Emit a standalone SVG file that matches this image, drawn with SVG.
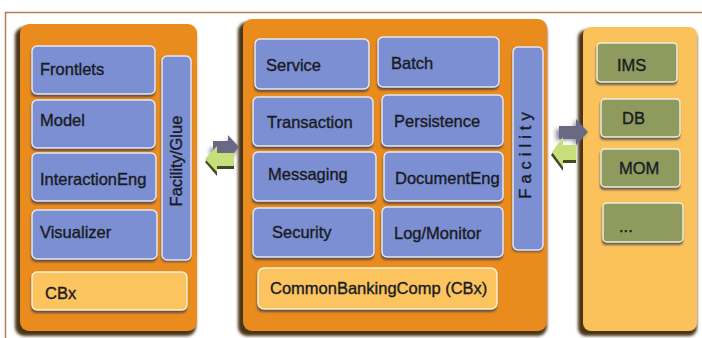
<svg xmlns="http://www.w3.org/2000/svg" width="702" height="338" viewBox="0 0 702 338">
  <style>
    .panel { fill: #ea8b1e; }
    .panel-light { fill: #fbc25c; }
    .panel-shadow { fill: #4a3418; filter: url(#soft); }
    .blue { fill: #7b8fd2; stroke: #e6e9f4; stroke-width: 1.5; }
    .cream { fill: #fbc45e; stroke: #fff1d6; stroke-width: 1.5; }
    .green { fill: #8e9a5e; stroke: #eef0dc; stroke-width: 1.5; }
    .box-shadow { fill: #3a3a4a; opacity: 0.75; filter: url(#soft1); }
    .lbl { font-family: "Liberation Sans", Arial, sans-serif; font-size: 16.5px; fill: #1a1a22; stroke: #1a1a22; stroke-width: 0.35; }
  </style>
  <defs>
    <filter id="soft" x="-10%" y="-10%" width="120%" height="120%">
      <feGaussianBlur stdDeviation="1.5"/>
    </filter>
    <filter id="soft1" x="-10%" y="-10%" width="120%" height="130%">
      <feGaussianBlur stdDeviation="0.8"/>
    </filter>
    <filter id="blurArrow" x="-30%" y="-30%" width="160%" height="160%">
      <feGaussianBlur stdDeviation="2"/>
    </filter>
  </defs>

  <rect width="702" height="338" fill="#ffffff"/>
  <!-- outer frame -->
  <path d="M702 12.5 H5.5 V338" fill="none" stroke="#b57d55" stroke-width="1.5"/>

  <!-- left panel -->
  <g id="left-panel">
    <rect class="panel-shadow" x="15" y="27" width="181" height="309" rx="9"/>
    <rect class="panel" x="20" y="24" width="177" height="307" rx="9"/>
  </g>
  <g id="frontlets">
    <rect class="box-shadow" x="31" y="48" width="124" height="49" rx="5"/>
    <rect class="blue" x="32" y="46" width="123" height="48" rx="5"/>
    <text class="lbl" x="40" y="75">Frontlets</text>
  </g>
  <g id="model">
    <rect class="box-shadow" x="31" y="102" width="124" height="49" rx="5"/>
    <rect class="blue" x="32" y="100" width="123" height="48" rx="5"/>
    <text class="lbl" x="40" y="126">Model</text>
  </g>
  <g id="interaction-eng">
    <rect class="box-shadow" x="31" y="155" width="125" height="49" rx="5"/>
    <rect class="blue" x="32" y="153" width="124" height="48" rx="5"/>
    <text class="lbl" x="40" y="185">InteractionEng</text>
  </g>
  <g id="visualizer">
    <rect class="box-shadow" x="31" y="212" width="126" height="50" rx="5"/>
    <rect class="blue" x="32" y="210" width="125" height="49" rx="5"/>
    <text class="lbl" x="40" y="238">Visualizer</text>
  </g>
  <g id="facility-glue">
    <rect class="box-shadow" x="161" y="58" width="30" height="204" rx="5"/>
    <rect class="blue" x="162" y="56" width="29" height="204" rx="5"/>
    <text class="lbl" transform="translate(182 161) rotate(-90)" text-anchor="middle">Facility/Glue</text>
  </g>
  <g id="cbx-left">
    <rect class="box-shadow" x="31" y="274" width="156" height="39" rx="5"/>
    <rect class="cream" x="32" y="272" width="155" height="38" rx="5"/>
    <text class="lbl" x="45" y="299">CBx</text>
  </g>

  <!-- middle panel -->
  <g id="middle-panel">
    <rect class="panel-shadow" x="238" y="22" width="309" height="314" rx="9"/>
    <rect class="panel" x="243" y="19" width="304" height="312" rx="9"/>
  </g>
  <g id="service">
    <rect class="box-shadow" x="254" y="41" width="115" height="51" rx="5"/>
    <rect class="blue" x="255" y="39" width="114" height="50" rx="5"/>
    <text class="lbl" x="266" y="71">Service</text>
  </g>
  <g id="batch">
    <rect class="box-shadow" x="377" y="39" width="122" height="51" rx="5"/>
    <rect class="blue" x="378" y="37" width="121" height="50" rx="5"/>
    <text class="lbl" x="391" y="69">Batch</text>
  </g>
  <g id="transaction">
    <rect class="box-shadow" x="252" y="99" width="121" height="50" rx="5"/>
    <rect class="blue" x="253" y="97" width="120" height="49" rx="5"/>
    <text class="lbl" x="267" y="128">Transaction</text>
  </g>
  <g id="persistence">
    <rect class="box-shadow" x="381" y="97" width="122" height="52" rx="5"/>
    <rect class="blue" x="382" y="95" width="121" height="51" rx="5"/>
    <text class="lbl" x="394" y="127">Persistence</text>
  </g>
  <g id="messaging">
    <rect class="box-shadow" x="252" y="154" width="124" height="50" rx="5"/>
    <rect class="blue" x="253" y="152" width="123" height="49" rx="5"/>
    <text class="lbl" x="268" y="180">Messaging</text>
  </g>
  <g id="document-eng">
    <rect class="box-shadow" x="383" y="154" width="120" height="50" rx="5"/>
    <rect class="blue" x="384" y="152" width="119" height="49" rx="5"/>
    <text class="lbl" x="395" y="184">DocumentEng</text>
  </g>
  <g id="security">
    <rect class="box-shadow" x="252" y="210" width="122" height="50" rx="5"/>
    <rect class="blue" x="253" y="208" width="121" height="49" rx="5"/>
    <text class="lbl" x="272" y="238">Security</text>
  </g>
  <g id="log-monitor">
    <rect class="box-shadow" x="381" y="209" width="122" height="51" rx="5"/>
    <rect class="blue" x="382" y="207" width="121" height="50" rx="5"/>
    <text class="lbl" x="394" y="239">Log/Monitor</text>
  </g>
  <g id="common-banking-comp">
    <rect class="box-shadow" x="257" y="270" width="240" height="42" rx="6"/>
    <rect class="cream" x="258" y="268" width="239" height="41" rx="6"/>
    <text class="lbl" x="270" y="294">CommonBankingComp (CBx)</text>
  </g>
  <g id="facility">
    <rect class="box-shadow" x="512" y="49" width="31" height="203" rx="5"/>
    <rect class="blue" x="513" y="47" width="30" height="203" rx="5"/>
    <text class="lbl" transform="translate(531 153) rotate(-90)" text-anchor="middle" letter-spacing="5">Facility</text>
  </g>

  <!-- right panel -->
  <g id="right-panel">
    <rect class="panel-shadow" x="578" y="30" width="119" height="306" rx="8"/>
    <rect class="panel-light" x="583" y="27" width="114" height="304" rx="8"/>
  </g>
  <g id="ims">
    <rect class="box-shadow" x="596" y="45" width="81" height="40" rx="4"/>
    <rect class="green" x="597" y="43" width="80" height="39" rx="4"/>
    <text class="lbl" x="617" y="71">IMS</text>
  </g>
  <g id="db">
    <rect class="box-shadow" x="600" y="101" width="80" height="39" rx="4"/>
    <rect class="green" x="601" y="99" width="79" height="38" rx="4"/>
    <text class="lbl" x="622" y="124">DB</text>
  </g>
  <g id="mom">
    <rect class="box-shadow" x="600" y="151" width="80" height="39" rx="4"/>
    <rect class="green" x="601" y="149" width="79" height="38" rx="4"/>
    <text class="lbl" x="619" y="174">MOM</text>
  </g>
  <g id="more">
    <rect class="box-shadow" x="602" y="205" width="81" height="40" rx="4"/>
    <rect class="green" x="603" y="203" width="80" height="39" rx="4"/>
    <text class="lbl" x="619" y="232" font-size="12" stroke-width="0">...</text>
  </g>

  <!-- connectors: paired two-way arrows between panels -->
  <g id="connectors">
    <g id="arrows-left">
      <path d="M210 148 H227 V138 L238 150 L227 162 V155 H210 Z" fill="#6d6c88" filter="url(#blurArrow)" opacity="0.8"/>
      <path d="M213 141 H228 V135 L239 147 L228 159 V153 H213 Z" fill="#6a6984"/>
      <path d="M234 156 H217 V148 L205 162 L217 176 V169 H234 Z" fill="#3f4a22"/>
      <path d="M234 153 H217 V146 L205 159 L217 172 V166 H234 Z" fill="#c7df7b"/>
    </g>
    <g id="arrows-right">
      <path d="M556 129 H574 V120 L586 133 L574 146 V140 H556 Z" fill="#6d6c88" filter="url(#blurArrow)" opacity="0.8"/>
      <path d="M559 126 H576 V119 L588 132 L576 145 V139 H559 Z" fill="#6a6984"/>
      <path d="M576 148 H563 V139 L551 155 L563 171 V163 H576 Z" fill="#3f4a22"/>
      <path d="M576 145 H563 V137 L552 152 L563 167 V160 H576 Z" fill="#c7df7b"/>
    </g>
  </g>
</svg>
